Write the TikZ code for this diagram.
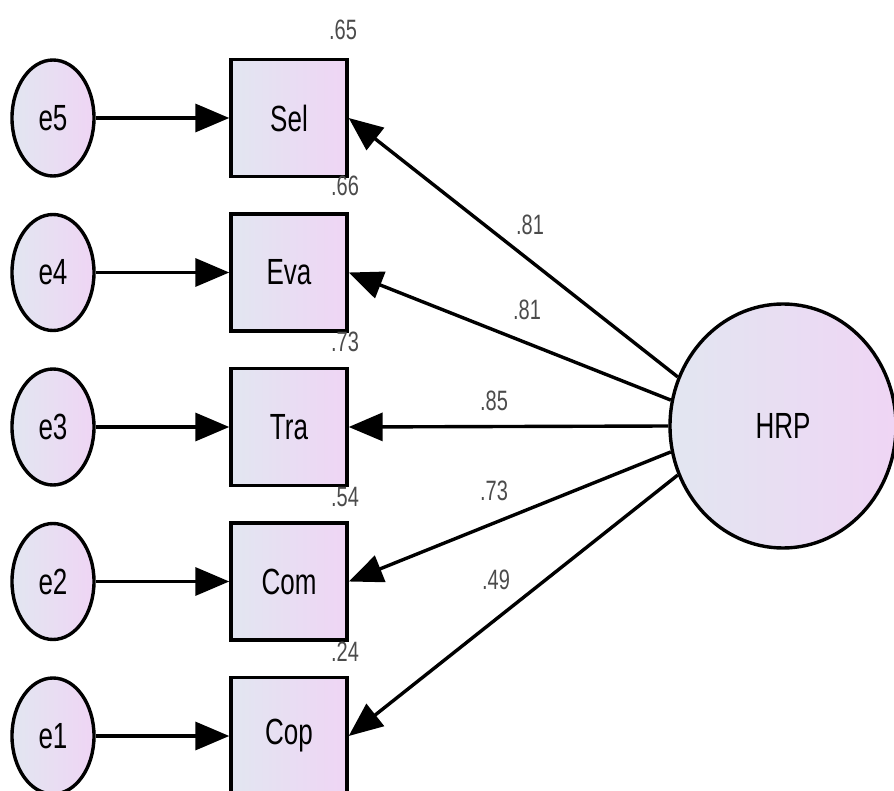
\documentclass[tikz,border=0pt]{standalone}
\usepackage{fontspec}
\setmainfont{Liberation Sans}
\usetikzlibrary{shapes.geometric,arrows.meta}

% text in this model is drawn tall and narrow
\newcommand{\tallText}[1]{\scalebox{1}[1.4]{#1}}

\definecolor{fillLeft}{RGB}{226,230,241}
\definecolor{fillRight}{RGB}{239,213,244}
\definecolor{coefGrey}{RGB}{75,75,75}

\tikzset{
  varbox/.style={draw=black, line width=3.4pt, rectangle, inner sep=0pt,
    minimum width=116pt, minimum height=117pt,
    left color=fillLeft, right color=fillRight,
    font=\fontsize{26}{30}\selectfont},
  errnode/.style={draw=black, line width=3.4pt, ellipse, inner sep=0pt,
    minimum width=82pt, minimum height=116pt,
    left color=fillLeft, right color=fillRight,
    font=\fontsize{26}{30}\selectfont},
  latentnode/.style={draw=black, line width=3.4pt, ellipse, inner sep=0pt,
    minimum width=226pt, minimum height=244pt,
    left color=fillLeft, right color=fillRight,
    font=\fontsize{26}{30}\selectfont},
  coef/.style={text=coefGrey, inner sep=0pt,
    font=\fontsize{20}{24}\selectfont},
  path arrow/.style={line width=3.4pt,
    -{Triangle[length=34pt,width=28pt]}},
}

\begin{document}
\begin{tikzpicture}[x=1pt,y=-1pt]
\useasboundingbox (0,0) rectangle (894,791);

% observed indicators
\node[varbox] (sel) at (289,118)   {\tallText{Sel}};
\node[varbox] (eva) at (289,272.5) {\tallText{Eva}};
\node[varbox] (tra) at (289,427)   {\tallText{Tra}};
\node[varbox] (com) at (289,581.5) {\tallText{Com}};
\node[varbox] (cop) at (289,736)   {\tallText{Cop}};

% error terms
\node[errnode] (e5) at (53,118)   {\tallText{e5}};
\node[errnode] (e4) at (53,272.5) {\tallText{e4}};
\node[errnode] (e3) at (53,427)   {\tallText{e3}};
\node[errnode] (e2) at (53,581.5) {\tallText{e2}};
\node[errnode] (e1) at (53,736)   {\tallText{e1}};

% latent factor
\node[latentnode] (hrp) at (783,426) {\tallText{HRP}};

% error paths
\draw[path arrow] (e5) -- (sel);
\draw[path arrow] (e4) -- (eva);
\draw[path arrow] (e3) -- (tra);
\draw[path arrow] (e2) -- (com);
\draw[path arrow] (e1) -- (cop);

% factor loadings
\draw[path arrow] (hrp.155) -- (sel.east);
\draw[path arrow] (hrp.167) -- (eva.east);
\draw[path arrow] (hrp.180) -- (tra.east);
\draw[path arrow] (hrp.193) -- (com.east);
\draw[path arrow] (hrp.205) -- (cop.east);

% squared multiple correlations
\node[coef] (r2sel) at (343,30)  {\tallText{.65}};
\node[coef] (r2eva) at (345,186) {\tallText{.66}};
\node[coef] (r2tra) at (345,342) {\tallText{.73}};
\node[coef] (r2com) at (345,497) {\tallText{.54}};
\node[coef] (r2cop) at (345,652) {\tallText{.24}};

% standardized loadings
\node[coef] (lsel) at (530,225) {\tallText{.81}};
\node[coef] (leva) at (527,310) {\tallText{.81}};
\node[coef] (ltra) at (494,401) {\tallText{.85}};
\node[coef] (lcom) at (494,491) {\tallText{.73}};
\node[coef] (lcop) at (496,580) {\tallText{.49}};
\end{tikzpicture}
\end{document}
